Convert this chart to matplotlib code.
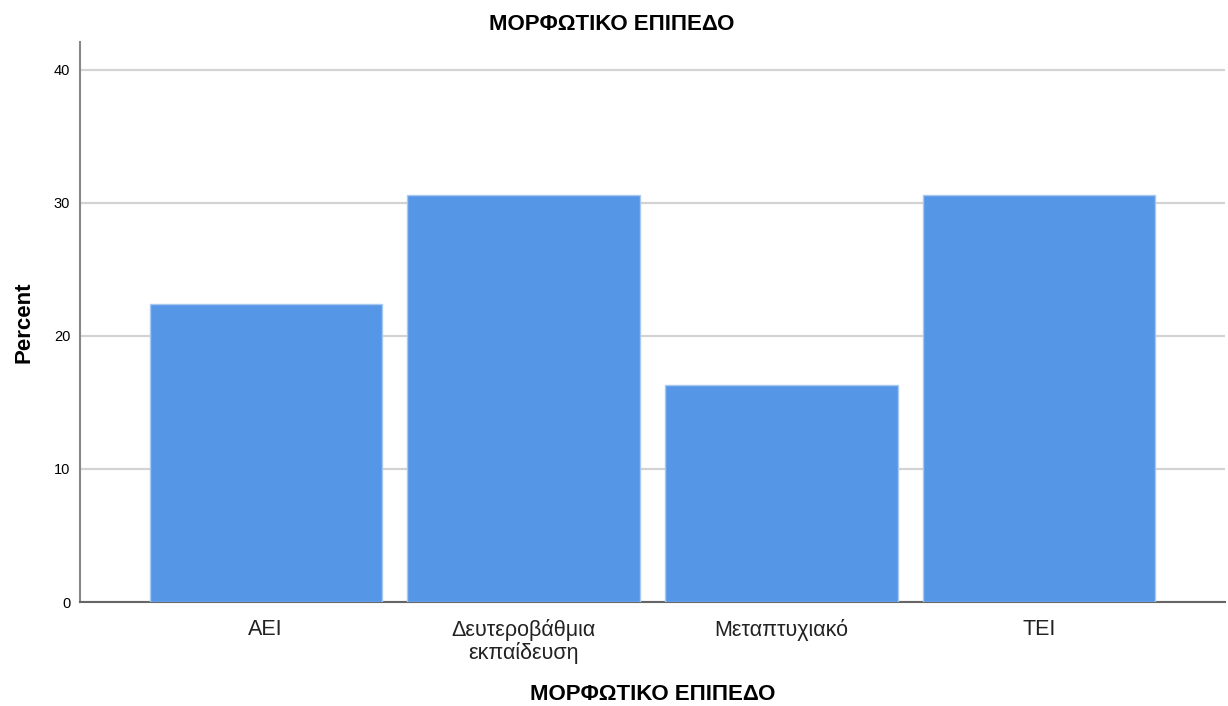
import matplotlib
matplotlib.use("Agg")
import matplotlib.pyplot as plt

# data (n = 49 respondents, shown as percent)
categories = ["ΑΕΙ", "Δευτεροβάθμια\nεκπαίδευση", "Μεταπτυχιακό", "ΤΕΙ"]
percent = [22.4, 30.6, 16.3, 30.6]
yticks = [0, 10, 20, 30, 40]

plt.rcParams['font.family'] = ['Liberation Sans', 'DejaVu Sans']

fig = plt.figure(figsize=(12.28, 7.06), dpi=100)
ax = fig.add_axes([0.0651, 0.1473, 0.9325, 0.7932])

x = range(len(categories))
ax.bar(x, percent, width=0.9, color="#5596e6", edgecolor="#a9c8f0", linewidth=1, zorder=3)

ax.set_xlim(-0.72, len(categories) - 1 + 0.72)
ax.set_ylim(0, 42.1)
ax.set_yticks(yticks)
ax.set_xticks(list(x))
ax.set_xticklabels(categories, fontsize=15.5, color="#222222", linespacing=1.05)
ax.tick_params(axis='y', labelsize=10.5, length=0, pad=7)
ax.tick_params(axis='x', length=0, pad=12)
ax.grid(axis='y', color="#d3d3d3", linewidth=1.6, zorder=0)

for s in ["top", "right"]:
    ax.spines[s].set_visible(False)
ax.spines["left"].set_color("#888888")
ax.spines["bottom"].set_color("#666666")
ax.spines["left"].set_linewidth(1.5)
ax.spines["bottom"].set_linewidth(1.5)

# title sits centred on the figure, not on the axes
ax.set_title("ΜΟΡΦΩΤΙΚΟ ΕΠΙΠΕΔΟ", fontsize=16, fontweight="bold", pad=9, x=0.4646)
ax.set_xlabel("ΜΟΡΦΩΤΙΚΟ ΕΠΙΠΕΔΟ", fontsize=16, fontweight="bold", va="center")
ax.xaxis.set_label_coords(0.5, -0.166)
ax.set_ylabel("Percent", fontsize=16, fontweight="bold", labelpad=14)

fig.savefig("out.png", dpi=100)
